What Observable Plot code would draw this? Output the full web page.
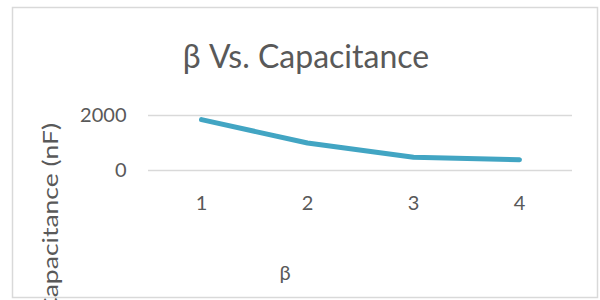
<!DOCTYPE html>
<html><head><meta charset="utf-8">
<script src="https://cdn.jsdelivr.net/npm/d3@7"></script>
<script src="https://cdn.jsdelivr.net/npm/@observablehq/plot@0.6"></script>
<style>
body{margin:0;background:#fff;}
#chart{position:relative;width:600px;height:300px;overflow:hidden;}
</style></head><body><div id="chart"></div>
<script>
const betas = [1, 2, 3, 4];
const capacitance = [1850, 1000, 480, 390];
const yTicks = [0, 2000];
const titleText = "β Vs. Capacitance";
const xLabel = "β";
const yLabel = "Capacitance (nF)";

const data = betas.map((b, i) => ({beta: b, cap: capacitance[i]}));
const font = "Lato, 'Open Sans', sans-serif";
const grey = "#595959";

const plot = Plot.plot({
  width: 600, height: 300,
  marginLeft: 148, marginRight: 28, marginTop: 115, marginBottom: 130,
  style: {fontFamily: font, fontSize: "20px", color: grey, background: "#fff", overflow: "visible"},
  x: {type: "point", domain: betas, padding: 0.5, tickSize: 0, tickPadding: 25, label: null},
  y: {domain: [0, 2000], ticks: yTicks, tickSize: 0, tickPadding: 22, label: null, tickFormat: d => String(d)},
  marks: [
    Plot.ruleY(yTicks, {stroke: "#d9d9d9", strokeWidth: 1.5}),
    Plot.line(data, {x: "beta", y: "cap", stroke: "#42a5c3", strokeWidth: 5, strokeLinecap: "round", strokeLinejoin: "round"})
  ]
});
document.getElementById("chart").appendChild(plot);

const svg = d3.select(plot);
svg.append("rect")
  .attr("x", 12.5).attr("y", 7.5).attr("width", 585).attr("height", 290)
  .attr("fill", "none").attr("stroke", "#d9d9d9").attr("stroke-width", 1.5);
svg.append("text")
  .attr("x", 306).attr("y", 68).attr("text-anchor", "middle")
  .attr("font-family", font).attr("font-size", 32).attr("fill", grey)
  .text(titleText);
svg.append("text")
  .attr("x", 285).attr("y", 280).attr("text-anchor", "middle")
  .attr("font-family", font).attr("font-size", 20).attr("fill", grey)
  .text(xLabel);
svg.append("text")
  .attr("transform", "translate(58,123) rotate(-90)").attr("text-anchor", "end")
  .attr("font-family", font).attr("font-size", 22).attr("fill", grey)
  .attr("textLength", 192).attr("lengthAdjust", "spacingAndGlyphs")
  .text(yLabel);
</script></body></html>
